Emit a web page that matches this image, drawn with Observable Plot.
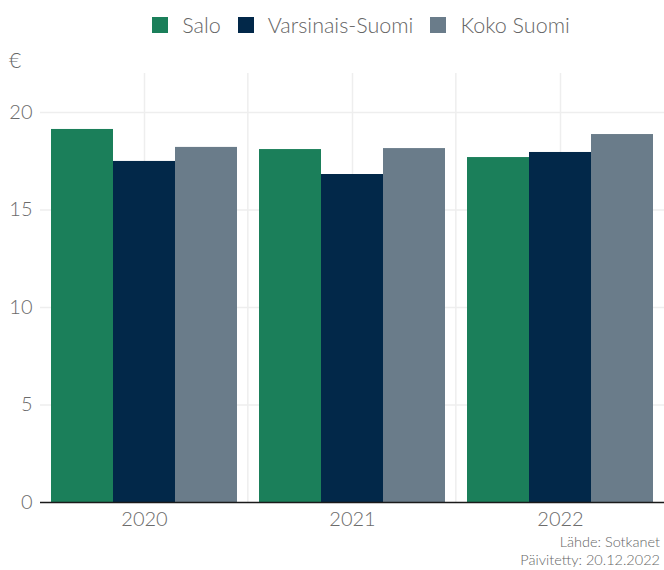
<!DOCTYPE html>
<html>
<head>
<meta charset="utf-8">
<script src="https://cdn.jsdelivr.net/npm/d3@7"></script>
<script src="https://cdn.jsdelivr.net/npm/@observablehq/plot@0.6"></script>
<style>
  body { margin: 0; background: #fff; font-family: Lato, "Open Sans", sans-serif; font-weight: 300; }
  #wrap { position: relative; width: 664px; height: 570px; overflow: hidden; }
  #legend { position: absolute; top: 0; left: 58px; right: 0; height: 50px; display: flex; justify-content: center; align-items: center; font-size: 21.5px; color: #666; }
  #legend .item { display: flex; align-items: center; margin: 0 8.5px; }
  #legend .sw { width: 16px; height: 16px; margin-right: 14px; }
  #unit { position: absolute; left: 9px; top: 47px; font-size: 21px; color: #666; line-height: 26px; }
  #chart { position: absolute; left: 0; top: 44px; }
  #caption { position: absolute; right: 4px; top: 533px; font-size: 14.5px; line-height: 17.5px; color: #666; text-align: right; }
</style>
</head>
<body>
<div id="wrap">
  <div id="legend"></div>
  <div id="unit">€</div>
  <div id="chart"></div>
  <div id="caption"><div>Lähde: Sotkanet</div><div>Päivitetty: 20.12.2022</div></div>
</div>
<script>
const years = ["2020", "2021", "2022"];
const series = ["Salo", "Varsinais-Suomi", "Koko Suomi"];
const colors = ["#1b7f5a", "#022849", "#6a7c8a"];
const salo = [19.13, 18.10, 17.69];
const varsinaisSuomi = [17.49, 16.82, 17.95];
const kokoSuomi = [18.21, 18.15, 18.87];
const yTicks = [0, 5, 10, 15, 20];

const values = [salo, varsinaisSuomi, kokoSuomi];
const data = years.flatMap((yr, i) => series.map((s, j) => ({year: yr, series: s, value: values[j][i]})));

// legend
const legend = document.getElementById("legend");
series.forEach((s, j) => {
  const it = document.createElement("div");
  it.className = "item";
  it.innerHTML = `<span class="sw" style="background:${colors[j]}"></span><span>${s}</span>`;
  legend.appendChild(it);
});

const W = 664, mL = 40, mR = 0, padOuter = 0.16;
const facetW = (W - mL - mR) / years.length;
const xStep = facetW / (series.length + 2 * padOuter);
const edgeDx = xStep / 2 + padOuter * xStep;

const chart = Plot.plot({
  width: W,
  height: 488,
  marginTop: 29,
  marginBottom: 30,
  marginLeft: mL,
  marginRight: mR,
  style: {fontFamily: "Lato, 'Open Sans', sans-serif", fontSize: "20px", color: "#6b6b6b", background: "transparent"},
  fx: {domain: years, padding: 0, label: null, tickSize: 0, tickPadding: 9, axis: "bottom"},
  x: {domain: series, paddingInner: 0, paddingOuter: padOuter, axis: null},
  y: {domain: [0, 22], ticks: yTicks, label: null, tickSize: 0, tickPadding: 8},
  color: {domain: series, range: colors},
  marks: [
    Plot.ruleY(yTicks.slice(1), {stroke: "#eeeeee", strokeWidth: 1.5}),
    Plot.ruleX(years, {fx: d => d, x: () => series[1], stroke: "#eeeeee", strokeWidth: 1.5}),
    Plot.ruleX(years.slice(0, -1), {fx: d => d, x: () => series[2], dx: edgeDx, stroke: "#eeeeee", strokeWidth: 1.5}),
    Plot.barY(data, {fx: "year", x: "series", y: "value", fill: "series"}),
    Plot.ruleY([0], {stroke: "#1a1a1a", strokeWidth: 1.5})
  ]
});
document.getElementById("chart").appendChild(chart);
</script>
</body>
</html>
